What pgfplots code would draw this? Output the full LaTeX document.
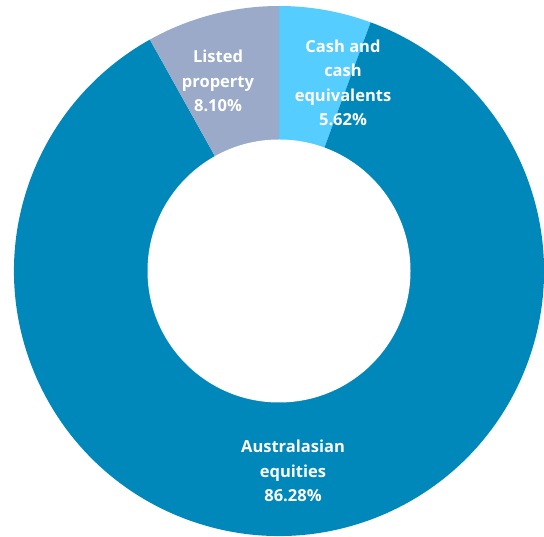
\documentclass[border=0pt]{standalone}
\usepackage{fontspec}
\setmainfont{Open Sans}
\usepackage{pgfplots}
\pgfplotsset{compat=1.18}
\definecolor{cashc}{RGB}{85,205,255}
\definecolor{equc}{RGB}{0,136,187}
\definecolor{propc}{RGB}{154,170,200}
\begin{document}
\begin{tikzpicture}
% shares (%), clockwise from 12 o'clock
\def\vCash{5.62}
\def\vEqu{86.28}
\def\vProp{8.10}
\pgfmathsetmacro\aA{90}
\pgfmathsetmacro\aB{\aA-3.6*\vCash}
\pgfmathsetmacro\aC{\aB-3.6*\vEqu}
\pgfmathsetmacro\aD{\aC-3.6*\vProp}
\begin{axis}[
  hide axis, scale only axis,
  width=544pt, height=536pt,
  xmin=0, xmax=544, ymin=0, ymax=536,
  clip=false,
]
\addplot[draw=none] coordinates {(0,0) (544,536)};
\coordinate (bl) at (axis cs:0,0);
\coordinate (tr) at (axis cs:544,536);
\fill[cashc] (axis cs:279,265) -- ++(\aA:265pt) arc[start angle=\aA, end angle=\aB, radius=265pt] -- cycle;
\fill[equc] (axis cs:279,265) -- ++(\aB:265pt) arc[start angle=\aB, end angle=\aC, radius=265pt] -- cycle;
\fill[propc] (axis cs:279,265) -- ++(\aC:265pt) arc[start angle=\aC, end angle=\aD, radius=265pt] -- cycle;
\fill[white] (axis cs:279,265) circle[radius=131.5pt];
\tikzset{lbl/.style={text=white, align=center, font=\fontsize{16.5}{24.5}\selectfont\bfseries, inner sep=0pt}}
\node[lbl] at (axis cs:218,455) {Listed\\property\\8.10\%};
\node[lbl] at (axis cs:343,453) {Cash and\\cash\\equivalents\\5.62\%};
\node[lbl] at (axis cs:293,65) {Australasian\\equities\\86.28\%};
\end{axis}
\pgfresetboundingbox
\path[use as bounding box] (bl) rectangle (tr);
\end{tikzpicture}
\end{document}
